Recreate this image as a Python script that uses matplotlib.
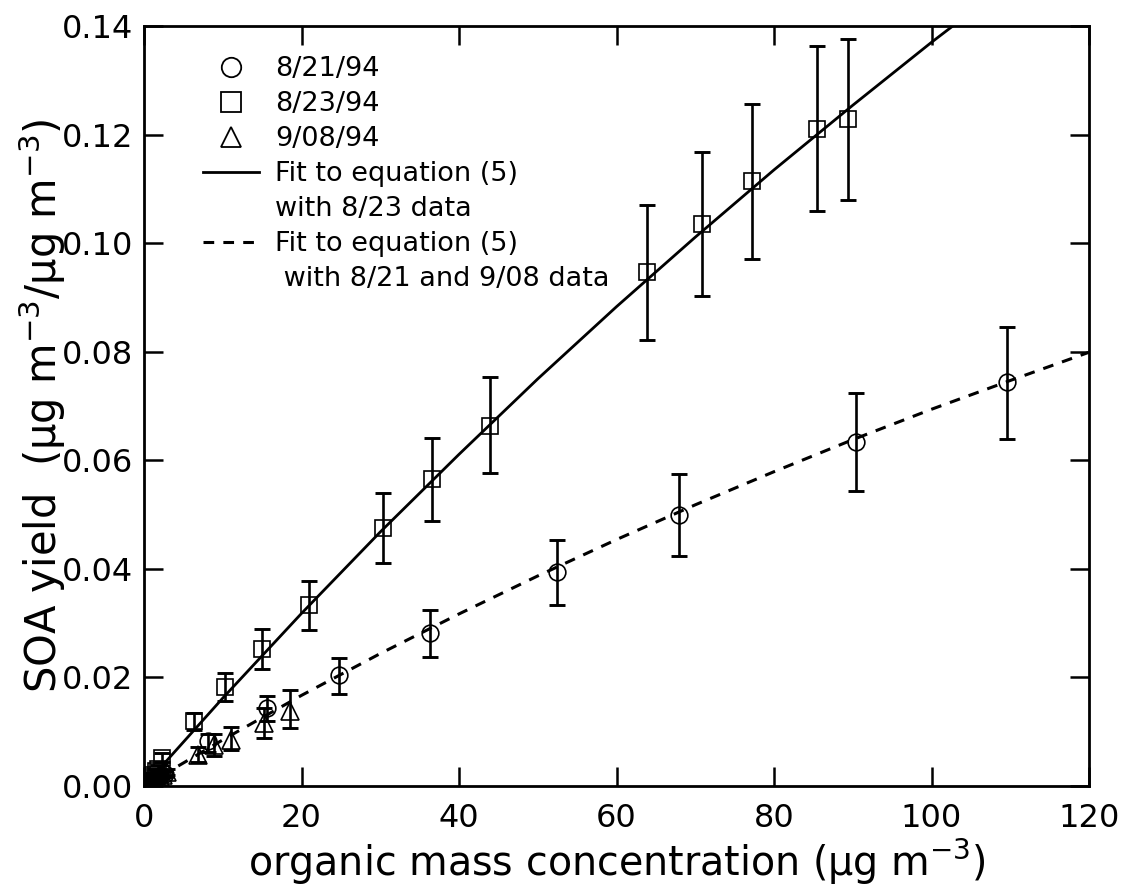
import matplotlib
matplotlib.use("Agg")
import matplotlib.pyplot as plt
from matplotlib.lines import Line2D
import numpy as np

plt.rcParams['font.family'] = ['DejaVu Sans']
plt.rcParams['mathtext.fontset'] = 'dejavusans'

# ---- data ----
# 8/21/94 (circles)
c_x = [0.2, 0.5, 0.7, 0.9, 1.2, 1.4, 1.7, 2.0, 2.6, 8.1, 15.6, 24.8, 36.3, 52.5, 67.9, 90.4, 109.6]
c_y = [0.0003, 0.0006, 0.0007, 0.0009, 0.0011, 0.0013, 0.0016, 0.0018, 0.0022, 0.0083, 0.0143, 0.0204,
       0.0282, 0.0394, 0.0499, 0.0633, 0.0745]
c_lo = [0.0002, 0.0002, 0.0002, 0.0003, 0.0003, 0.0003, 0.0004, 0.0004, 0.0005, 0.0020, 0.0023, 0.0034,
        0.0044, 0.0061, 0.0076, 0.0090, 0.0106]
c_hi = [0.0002, 0.0002, 0.0002, 0.0003, 0.0003, 0.0003, 0.0004, 0.0004, 0.0005, 0.0013, 0.0023, 0.0031,
        0.0042, 0.0059, 0.0075, 0.0091, 0.0101]

# 8/23/94 (squares)
s_x = [0.15, 0.3, 0.6, 0.8, 1.0, 1.2, 1.5, 1.8, 2.3, 6.3, 10.3, 15.0, 21.0, 30.3, 36.6, 43.9,
       63.9, 70.8, 77.2, 85.5, 89.4]
s_y = [0.0002, 0.0005, 0.0010, 0.0013, 0.0016, 0.0020, 0.0027, 0.0032, 0.0052, 0.0119, 0.0182, 0.0253,
       0.0333, 0.0476, 0.0565, 0.0664, 0.0946, 0.1035, 0.1114, 0.1211, 0.1229]
s_lo = [0.0001, 0.0002, 0.0003, 0.0003, 0.0003, 0.0004, 0.0005, 0.0006, 0.0008, 0.0016, 0.0026, 0.0037,
        0.0045, 0.0065, 0.0076, 0.0088, 0.0124, 0.0133, 0.0143, 0.0151, 0.0150]
s_hi = [0.0001, 0.0002, 0.0003, 0.0003, 0.0003, 0.0004, 0.0005, 0.0006, 0.0008, 0.0015, 0.0027, 0.0037,
        0.0045, 0.0063, 0.0076, 0.0090, 0.0124, 0.0133, 0.0143, 0.0152, 0.0147]

# 9/08/94 (triangles)
t_x = [0.4, 0.6, 0.8, 1.0, 1.3, 1.6, 2.0, 2.4, 2.9, 6.9, 8.9, 11.1, 15.2, 18.5]
t_y = [0.0004, 0.0005, 0.0007, 0.0009, 0.0011, 0.0014, 0.0017, 0.0021, 0.0026, 0.0058, 0.0076, 0.0085,
       0.0116, 0.0138]
t_lo = [0.0002, 0.0002, 0.0002, 0.0003, 0.0003, 0.0004, 0.0004, 0.0005, 0.0006, 0.0013, 0.0021, 0.0019,
        0.0027, 0.0032]
t_hi = [0.0002, 0.0002, 0.0002, 0.0003, 0.0003, 0.0004, 0.0004, 0.0005, 0.0006, 0.0013, 0.0020, 0.0024,
        0.0027, 0.0038]

# fit curves
fit_x = [0, 10, 20, 30, 40, 50, 60, 70, 80, 90, 100, 110, 120]
fit823_y = [0, 0.0162, 0.0318, 0.0468, 0.0611, 0.0750, 0.0883, 0.1011, 0.1135, 0.1254, 0.1370, 0.1481, 0.1590]
fit821_y = [0, 0.0085, 0.0167, 0.0244, 0.0317, 0.0387, 0.0454, 0.0518, 0.0579, 0.0638, 0.0694, 0.0747, 0.0799]

xticks = [0, 20, 40, 60, 80, 100, 120]
yticks = [0.00, 0.02, 0.04, 0.06, 0.08, 0.10, 0.12, 0.14]

legend_labels = ['8/21/94', '8/23/94', '9/08/94', 'Fit to equation (5)', 'with 8/23 data',
                 'Fit to equation (5)', ' with 8/21 and 9/08 data']

# ---- figure ----
fig = plt.figure(figsize=(11.35, 8.93), dpi=100)
ax = fig.add_axes([0.1269, 0.1198, 0.8326, 0.8511])

dash = (0, (3.5, 3.0))
ax.plot(fit_x, fit823_y, color='black', lw=2.0, zorder=2)
ax.plot(fit_x, fit821_y, color='black', lw=2.2, ls=dash, zorder=2)

ekw = dict(fmt='none', ecolor='black', elinewidth=1.9, capsize=6, capthick=2.1, zorder=3)
ax.errorbar(c_x, c_y, yerr=[c_lo, c_hi], **ekw)
ax.errorbar(s_x, s_y, yerr=[s_lo, s_hi], **ekw)
ax.errorbar(t_x, t_y, yerr=[t_lo, t_hi], **ekw)

mkw = dict(ls='none', mfc='none', mec='black', mew=1.2, zorder=4)
ax.plot(c_x, c_y, marker='o', ms=12, **mkw)
ax.plot(s_x, s_y, marker='s', ms=11.5, **mkw)
ax.plot(t_x, t_y, marker='^', ms=12.5, **mkw)

ax.set_xlim(0, 120)
ax.set_ylim(0, 0.14)
ax.set_xticks(xticks)
ax.set_yticks(yticks)
ax.set_xticklabels([str(v) for v in xticks])
ax.set_yticklabels([f"{v:.2f}" for v in yticks])
ax.tick_params(direction='in', length=14, width=1.8, top=True, right=True, labelsize=23)
ax.tick_params(axis='x', pad=12)
ax.tick_params(axis='y', pad=8)
for sp in ax.spines.values():
    sp.set_linewidth(2.0)

ax.set_xlabel('organic mass concentration (μg m$^{-3}$)', fontsize=28.5, labelpad=2)
ax.set_ylabel('SOA yield  (μg m$^{-3}$/μg m$^{-3}$)', fontsize=30, labelpad=-5)

blank = Line2D([], [], ls='none', marker=None)
handles = [
    Line2D([], [], ls='none', marker='o', ms=14, mfc='none', mec='black', mew=1.3),
    Line2D([], [], ls='none', marker='s', ms=14, mfc='none', mec='black', mew=1.3),
    Line2D([], [], ls='none', marker='^', ms=14, mfc='none', mec='black', mew=1.3),
    Line2D([], [], color='black', lw=2.0),
    blank,
    Line2D([], [], color='black', lw=2.2, ls=dash),
    blank,
]
leg = ax.legend(handles, legend_labels, loc='upper left', bbox_to_anchor=(0.0624, 0.960),
                frameon=False, fontsize=19.5, handlelength=2.07, handletextpad=0.6,
                labelspacing=0.33, borderaxespad=0.0, borderpad=0.0)

fig.savefig('out.png', dpi=100)
